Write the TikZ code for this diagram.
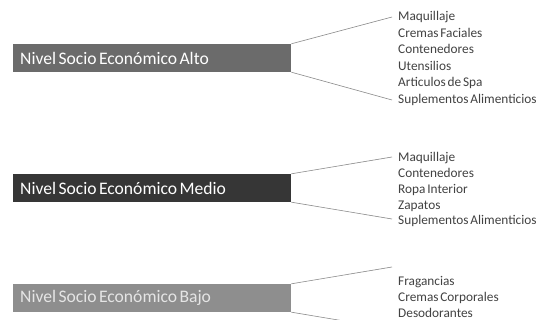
\documentclass[tikz,border=0pt]{standalone}
\usepackage{fontspec}
\setmainfont{Carlito}[WordSpace=0.6]
\definecolor{altoc}{HTML}{6B6B6B}
\definecolor{medioc}{HTML}{363636}
\definecolor{bajoc}{HTML}{8E8E8E}
\definecolor{itemc}{HTML}{424242}
\definecolor{linec}{HTML}{8A8A8A}
\newcommand{\boxlabel}[1]{\makebox[264pt][l]{#1}}
\tikzset{
  levelbox/.style={draw=none, anchor=west, minimum width=278pt, minimum height=28pt,
    inner xsep=7pt, inner ysep=0pt,
    font=\fontsize{17.6}{19}\selectfont, text=white},
  itemtext/.style={anchor=base west, inner sep=0pt, text=itemc,
    font=\fontsize{13.3}{15}\selectfont},
  connector/.style={draw=linec, line width=0.6pt}
}
\begin{document}
\begin{tikzpicture}[x=1pt,y=-1pt]
\useasboundingbox (0,0) rectangle (539,320);
\fill[white] (0,0) rectangle (539,320);
% boxes
\node[levelbox, fill=altoc] (alto) at (13,58) {\boxlabel{Nivel Socio Económico Alto}};
\node[levelbox, fill=medioc] (medio) at (13,188) {\boxlabel{Nivel Socio Económico Medio}};
\node[levelbox, fill=bajoc, text=white!90!black] (bajo) at (13,298) {\boxlabel{Nivel Socio Económico Bajo}};
% connector ends
\coordinate (a1) at (392,17);
\coordinate (a2) at (392,100);
\coordinate (m1) at (392,157);
\coordinate (m2) at (392,219);
\coordinate (b1) at (392,267);
\coordinate (b2) at (392,329);
\draw[connector] (alto.north east) -- (a1);
\draw[connector] (alto.south east) -- (a2);
\draw[connector] (medio.north east) -- (m1);
\draw[connector] (medio.south east) -- (m2);
\draw[connector] (bajo.north east) -- (b1);
\draw[connector] (bajo.south east) -- (b2);
% items
\foreach \t [count=\i] in {Maquillaje, Cremas Faciales, Contenedores, Utensilios, Articulos de Spa, Suplementos Alimenticios}
  \node[itemtext] (ia\i) at (398,{21+16.5*(\i-1)}) {\t};
\foreach \t [count=\i] in {Maquillaje, Contenedores, Ropa Interior, Zapatos, Suplementos Alimenticios}
  \node[itemtext] (im\i) at (398,{162+15.75*(\i-1)}) {\t};
\foreach \t [count=\i] in {Fragancias, Cremas Corporales, Desodorantes}
  \node[itemtext] (ib\i) at (398,{286+16*(\i-1)}) {\t};
\end{tikzpicture}
\end{document}
